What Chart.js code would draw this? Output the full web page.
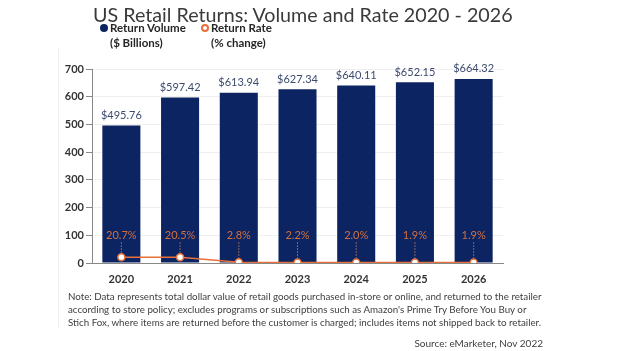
<!DOCTYPE html>
<html>
<head>
<meta charset="utf-8">
<script src="https://cdn.jsdelivr.net/npm/chart.js@4.4.0/dist/chart.umd.min.js"></script>
<style>
  html, body { margin: 0; padding: 0; background: #fff; }
  body { width: 624px; height: 351px; position: relative; overflow: hidden; font-family: Lato, sans-serif; }
  #wrap { position: absolute; left: 0; top: 0; width: 624px; height: 351px; }
  .title { position: absolute; left: 93px; top: 3px; font-size: 19.7px; color: #3a3a3a; white-space: nowrap; }
  .leg { position: absolute; top: 20px; font-size: 11.5px; font-weight: bold; color: #262626; line-height: 15px; white-space: nowrap; }
  .leg i { position: absolute; left: -10px; top: 3.5px; width: 8px; height: 8px; border-radius: 50%; box-sizing: border-box; }
  .note { position: absolute; left: 68px; top: 290px; font-size: 9.75px; color: #404040; line-height: 12.8px; white-space: nowrap; }
  .src { position: absolute; right: 81px; top: 337px; font-size: 10px; color: #404040; white-space: nowrap; }
  .edge { position: absolute; left: 58px; top: 48px; height: 280px; border-left: 1px solid #f0f0f0; }
</style>
</head>
<body>
<div class="edge"></div>
<div id="wrap"><canvas id="chart"></canvas></div>
<div class="title">US Retail Returns: Volume and Rate 2020 - 2026</div>
<div class="leg" style="left:110px"><i style="background:#0c2461"></i>Return Volume<br>($ Billions)</div>
<div class="leg" style="left:211px"><i style="border:2px solid #e8703a"></i>Return Rate<br>(% change)</div>
<div class="note">Note: Data represents total dollar value of retail goods purchased in-store or online, and returned to the retailer<br>according to store policy; excludes programs or subscriptions such as Amazon's Prime Try Before You Buy or<br>Stich Fox, where items are returned before the customer is charged; includes items not shipped back to retailer.</div>
<div class="src">Source: eMarketer, Nov 2022</div>

<script>
'use strict';

const years = ["2020", "2021", "2022", "2023", "2024", "2025", "2026"];
const returnVolume = [495.76, 597.42, 613.94, 627.34, 640.11, 652.15, 664.32];
const returnRate = [20.7, 20.5, 2.8, 2.2, 2.0, 1.9, 1.9];
const yTicks = [0, 100, 200, 300, 400, 500, 600, 700];

const navy = "#0c2461";
const orange = "#e8703a";

/**
 * value labels
 */

const labelPlugin = {
  id: "valueLabels",
  afterDatasetsDraw(chart) {
    const ctx = chart.ctx;
    const yScale = chart.scales.y;
    const bars = chart.getDatasetMeta(0).data;
    const points = chart.getDatasetMeta(1).data;

    ctx.save();
    ctx.textAlign = "center";
    ctx.textBaseline = "middle";
    ctx.font = "11px Lato";

    ctx.fillStyle = "#3c4a6e";
    bars.forEach(function (bar, i) {
      ctx.fillText("$" + returnVolume[i].toFixed(2), bar.x, bar.y - 10);
    });

    const labelY = yScale.getPixelForValue(100);
    points.forEach(function (pt, i) {
      ctx.strokeStyle = "#b07a60";
      ctx.lineWidth = 1;
      ctx.setLineDash([1.5, 1.5]);
      ctx.beginPath();
      ctx.moveTo(pt.x, labelY + 7);
      ctx.lineTo(pt.x, pt.y - 4);
      ctx.stroke();
      ctx.fillStyle = "#d4703f";
      ctx.fillText(returnRate[i].toFixed(1) + "%", pt.x, labelY);
    });
    ctx.restore();
  }
};

new Chart(document.getElementById("chart"), {
  data: {
    labels: years,
    datasets: [
      {
        type: "bar",
        data: returnVolume,
        backgroundColor: navy,
        barPercentage: 0.72,
        categoryPercentage: 0.9,
        order: 2
      },
      {
        type: "line",
        data: returnRate,
        borderColor: orange,
        borderWidth: 1.5,
        pointRadius: 3.5,
        pointBackgroundColor: "#fff",
        pointBorderColor: orange,
        pointBorderWidth: 1.5,
        order: 1
      }
    ]
  },
  options: {
    responsive: true,
    maintainAspectRatio: false,
    animation: false,
    layout: { padding: { left: 50, right: 121, top: 69, bottom: 68 } },
    plugins: { legend: { display: false }, tooltip: { enabled: false } },
    scales: {
      x: {
        grid: { display: false },
        border: { color: "#888" },
        ticks: { color: "#333", font: { family: "Lato", size: 11, weight: "bold" }, padding: 2 },
        afterFit(scale) { scale.height = 20; }
      },
      y: {
        min: 0,
        max: 700,
        afterBuildTicks(scale) { scale.ticks = yTicks.map(v => ({ value: v })); },
        grid: { color: "#efefef", tickColor: "#888", tickLength: 6 },
        border: { color: "#888" },
        ticks: { color: "#333", font: { family: "Lato", size: 11, weight: "bold" }, padding: 2 },
        afterFit(scale) { scale.width = 42; }
      }
    }
  },
  plugins: [labelPlugin]
});
</script>
</body>
</html>
